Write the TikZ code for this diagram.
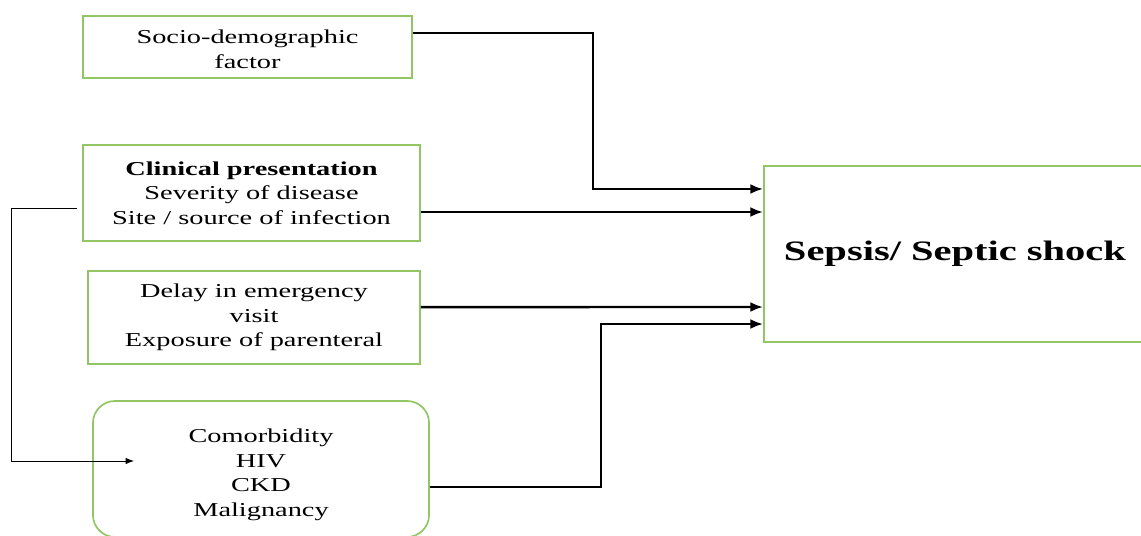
\documentclass[tikz,border=0pt]{standalone}
\usepackage{fontspec}
\setmainfont{Liberation Serif}[FakeStretch=1.44]
\usetikzlibrary{arrows.meta}
\definecolor{boxgreen}{RGB}{146,198,100}

\begin{document}
\begin{tikzpicture}[
		x=0.025cm, y=-0.025cm,
		factor/.style={draw=boxgreen, line width=1.2pt, align=center, inner sep=0pt, font=\fontsize{14}{17.5}\selectfont},
		link/.style={line width=1.7pt, -{Latex[length=9pt, width=7pt]}},
		feedback/.style={line width=0.6pt, -{Latex[length=6pt, width=4.5pt]}},
	]
		\useasboundingbox (0,0) rectangle (1141,536);

		\node (socio) [factor, minimum width=8.225cm, minimum height=1.55cm] at (247.5,47) {\rule{0pt}{13pt}Socio-demographic\\factor};
		\node (clinical) [factor, minimum width=8.425cm, minimum height=2.4cm] at (251.5,193) {\textbf{Clinical presentation}\\Severity of disease\\Site / source of infection};
		\node (delay) [factor, minimum width=8.3cm, minimum height=2.325cm] at (254,317.5) {Delay in emergency\\visit\\Exposure of parenteral};
		\node (comorb) [factor, rounded corners=0.55cm, minimum width=8.4cm, minimum height=3.4cm] at (261,469) {\rule{0pt}{18pt}Comorbidity\\HIV\\CKD\\Malignancy};
		\node (sepsis) [factor, minimum width=9.55cm, minimum height=4.4cm, font=\fontsize{20}{24}\selectfont\bfseries] at (955,254) {Sepsis/ Septic shock};

		\coordinate (clinout) at ([yshift=-0.475cm]clinical.east);

		\draw[link] ([yshift=0.35cm]socio.east) -- ++(180,0) |- ([yshift=1.625cm]sepsis.west);
		\draw[link] (clinout) -- (sepsis.west|-clinout);
		\draw[link] ([yshift=0.26cm]delay.east) -- ([yshift=-1.325cm]sepsis.west);
		\draw[link] ([yshift=-0.45cm]comorb.east) -- ++(171,0) |- ([yshift=-1.75cm]sepsis.west);

		\draw[feedback] ([xshift=-0.125cm, yshift=-0.375cm]clinical.west) -- ++(-66,0) |- ([xshift=1.05cm, yshift=0.2cm]comorb.west);
	\end{tikzpicture}
\end{document}
